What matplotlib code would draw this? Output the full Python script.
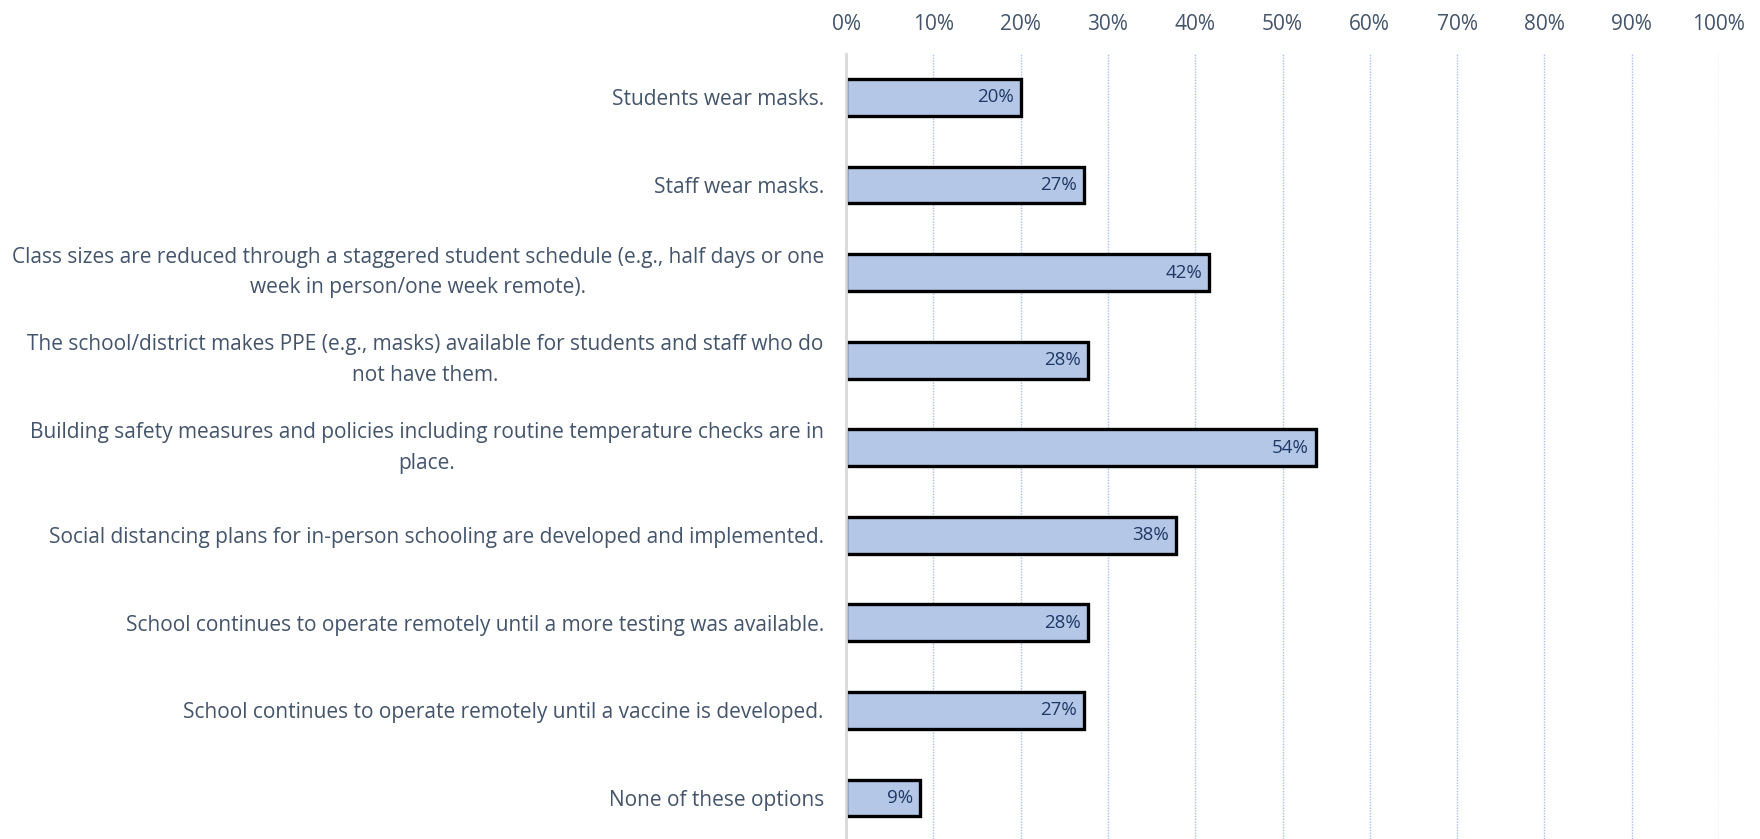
import numpy as np
import matplotlib.pyplot as plt
from matplotlib.ticker import FuncFormatter

categories = [
    "Students wear masks.",
    "Staff wear masks.",
    "Class sizes are reduced through a staggered student schedule (e.g., half days or one\nweek in person/one week remote).",
    "The school/district makes PPE (e.g., masks) available for students and staff who do\nnot have them.",
    "Building safety measures and policies including routine temperature checks are in\nplace.",
    "Social distancing plans for in-person schooling are developed and implemented.",
    "School continues to operate remotely until a more testing was available.",
    "School continues to operate remotely until a vaccine is developed.",
    "None of these options",
]
values = [20.0, 27.3, 41.6, 27.7, 53.8, 37.8, 27.7, 27.3, 8.5]
value_labels = ["20%", "27%", "42%", "28%", "54%", "38%", "28%", "27%", "9%"]
x_ticks = list(range(0, 101, 10))

plt.rcParams["font.family"] = ["Open Sans", "DejaVu Sans"]
TEXT = "#44546a"
LABEL = "#1f3864"

fig = plt.figure(figsize=(17.6, 8.39), dpi=100)
ax = fig.add_axes([0.4807, 0.0, 0.496, 0.936])

y = np.arange(len(categories))
ax.barh(y, values, height=0.42, color="#b4c7e7", edgecolor="black",
        linewidth=2.4, zorder=3)

for yi, v, lab in zip(y, values, value_labels):
    ax.text(v - 0.8, yi, lab, ha="right", va="center", fontsize=13.5,
            color=LABEL, zorder=4)

ax.set_xlim(0, 100)
ax.set_ylim(8.468, -0.5)
ax.set_xticks(x_ticks)
ax.xaxis.set_major_formatter(FuncFormatter(lambda v, p: f"{v:.0f}%"))
ax.xaxis.tick_top()
ax.tick_params(axis="x", length=0, pad=13.5, labelsize=15, labelcolor=TEXT)

ax.set_yticks(y)
ax.set_yticklabels(categories, fontsize=15, color=TEXT, linespacing=1.6)
for t in ax.get_yticklabels():
    t.set_multialignment("center")
    if "\n" in t.get_text():
        t.set_verticalalignment("center")
ax.tick_params(axis="y", length=0, pad=16)

ax.grid(axis="x", color="#a9bfe6", linestyle=(0, (1, 1)), linewidth=1.0, zorder=0)
for s in ["top", "right", "bottom"]:
    ax.spines[s].set_visible(False)
ax.spines["left"].set_color("#d9d9d9")
ax.spines["left"].set_linewidth(2)
ax.spines["left"].set_zorder(5)

fig.savefig("out.png", dpi=100)
